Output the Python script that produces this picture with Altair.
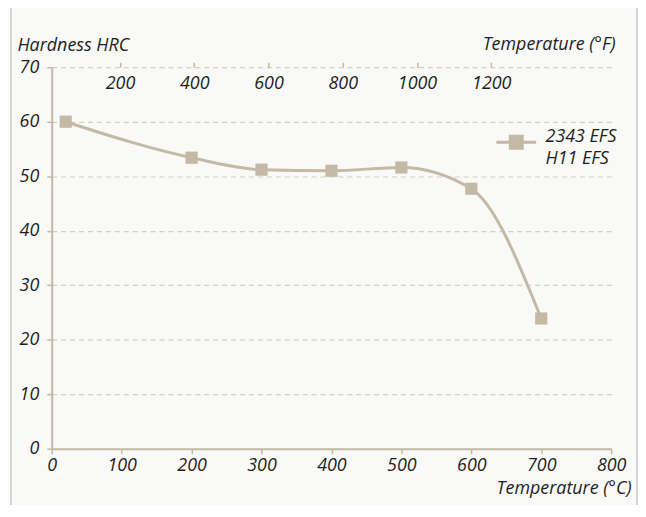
import altair as alt
import pandas as pd

# ---- data ----
temps_c = [20, 200, 300, 400, 500, 600, 700]
hardness = [60.0, 53.4, 51.2, 51.0, 51.6, 47.7, 23.9]
series_label = "2343 EFS|H11 EFS"

c_ticks = [0, 100, 200, 300, 400, 500, 600, 700, 800]
c_domain = [0, 800]
f_ticks = [200, 400, 600, 800, 1000, 1200]
f_domain = [16, 1523]
y_ticks = [0, 10, 20, 30, 40, 50, 60, 70]
y_domain = [0, 70]

df = pd.DataFrame({"temp": temps_c, "hrc": hardness, "series": [series_label] * len(temps_c)})
df_f = pd.DataFrame({"f": f_domain})
df_frame = pd.DataFrame({"k": [0]})

LINE = "#c3b9a4"
GRID = "#d6cebf"
TEXT = "#1e1e1e"
FONT = "Open Sans"
FS = 18

W, H = 563, 384

frame = alt.Chart(df_frame).mark_rect(
    filled=False, stroke="#c8c8c8", strokeWidth=1.5
).encode(
    x=alt.value(-41), x2=alt.value(589), y=alt.value(-62), y2=alt.value(500)
)

top_axis = alt.Chart(df_f).mark_point(opacity=0).encode(
    x=alt.X(
        "f:Q",
        scale=alt.Scale(domain=f_domain, nice=False, zero=False),
        axis=alt.Axis(
            orient="top", values=f_ticks, format="d", domain=False, grid=False,
            tickColor=LINE, tickWidth=1.5, tickSize=5,
            labelBaseline="top", labelPadding=-12, labelFlush=False,
            title="Temperature (°F)", titleX=567, titleY=-23,
            titleAlign="right", titleBaseline="middle", titleAnchor="end",
        ),
    )
)

line = alt.Chart(df).mark_line(
    interpolate="monotone", strokeWidth=3, color=LINE,
    point=alt.OverlayMarkDef(shape="square", size=150, filled=True, color=LINE, opacity=1),
).encode(
    x=alt.X(
        "temp:Q",
        scale=alt.Scale(domain=c_domain, nice=False),
        axis=alt.Axis(
            orient="bottom", values=c_ticks, format="d", grid=False,
            domainColor=LINE, domainWidth=2,
            tickColor=LINE, tickWidth=1.5, tickSize=5,
            labelBaseline="top", labelPadding=3, labelFlush=False,
            title="Temperature (°C)", titleX=583, titleY=40,
            titleAlign="right", titleBaseline="middle", titleAnchor="end",
        ),
    ),
    y=alt.Y(
        "hrc:Q",
        scale=alt.Scale(domain=y_domain, nice=False),
        axis=alt.Axis(
            values=y_ticks, grid=True, gridColor=GRID, gridDash=[5, 4], gridWidth=1.2,
            domainColor=LINE, domainWidth=2,
            tickColor=LINE, tickWidth=1.5, tickSize=5,
            labelPadding=8, labelFlush=False,
            title="Hardness HRC", titleAngle=0, titleX=-35, titleY=-22,
            titleAlign="left", titleBaseline="middle", titleAnchor="start",
        ),
    ),
    color=alt.Color(
        "series:N",
        scale=alt.Scale(domain=[series_label], range=[LINE]),
        legend=alt.Legend(
            orient="none", legendX=446, legendY=54, title=None,
            labelExpr="split(datum.label, '|')",
            labelBaseline="alphabetic",
            symbolType="M-1,0H1M-0.3,-0.3H0.3V0.3H-0.3Z",
            symbolSize=1600, symbolStrokeWidth=3,
            symbolFillColor=LINE, symbolStrokeColor=LINE,
            labelOffset=8, labelFont=FONT, labelFontSize=FS,
            labelFontStyle="italic", labelColor=TEXT, labelLimit=200,
        ),
    ),
)

chart = alt.layer(frame, top_axis, line).resolve_scale(x="independent").resolve_axis(
    x="independent"
).properties(
    width=W, height=H,
    padding={"left": 44, "top": 58, "right": 27, "bottom": 55},
    autosize=alt.AutoSizeParams(type="none"),
    background="#f9f9f7",
).configure(
    style={"guide-label": {"lineHeight": 22}}
).configure_view(stroke=None).configure_axis(
    labelFont=FONT, labelFontSize=FS, labelFontStyle="italic", labelColor=TEXT,
    titleFont=FONT, titleFontSize=FS, titleFontStyle="italic", titleFontWeight="normal",
    titleColor=TEXT,
)

chart.save("out.html", embed_options={"renderer": "svg", "actions": False})
